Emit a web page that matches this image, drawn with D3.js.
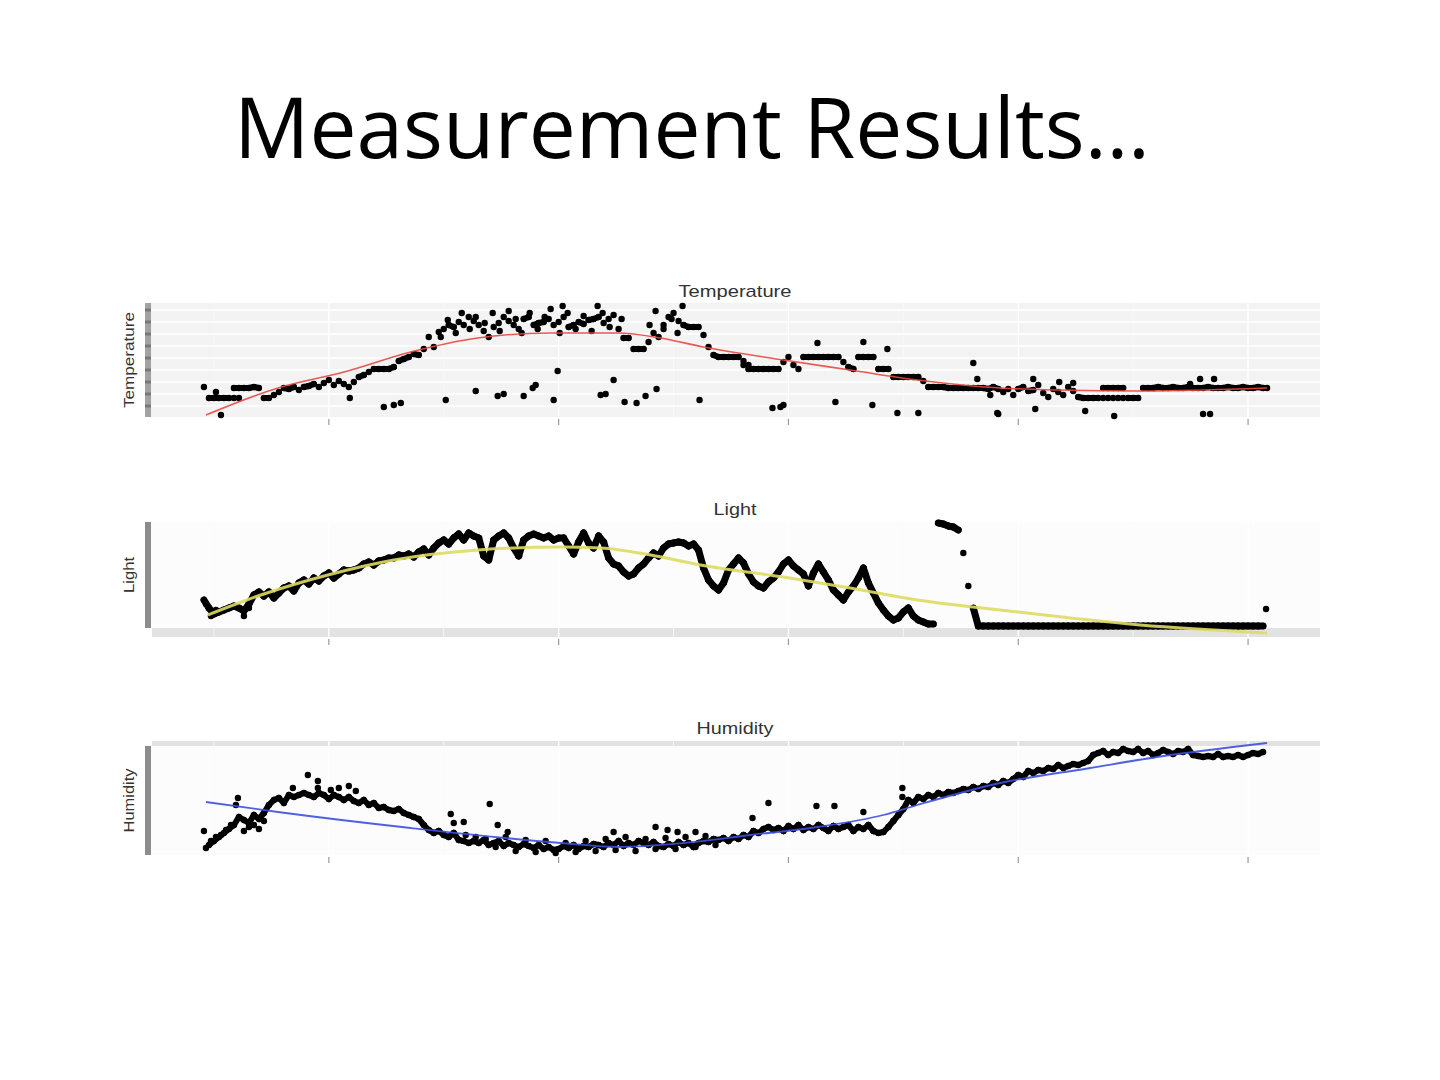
<!DOCTYPE html>
<html>
<head>
<meta charset="utf-8">
<title>Measurement Results</title>
<script src="https://cdn.jsdelivr.net/npm/d3@7"></script>
<style>
  body { margin: 0; background: #fff; }
  .slideTitle { font-family: "Open Sans", sans-serif; fill: #000; }
  .panelTitle { font-family: "Liberation Sans", Arial, sans-serif; font-size: 17px; fill: #333; }
  .yLabel { font-family: "Liberation Sans", Arial, sans-serif; font-size: 14px; fill: #333; }
</style>
</head>
<body>
<script>
//time axis: one reading every 5 minutes, ticks every ~4 hours
var sampleStep = 5;
var tickTimes = [125, 355, 585, 815, 1045];
var minorTimes = [10, 240, 470, 700, 930];

//temperature readings (relative units)
var tempValues = [
  30,19,19,19,19,19,29,29,29,29, 30,29,19,19,22,25,29,28,30,27,
  30,31,33,30,34,37,32,36,33,30, 35,40,42,45,48,48,48,48,50,56,
  58,60,63,62,68,80,70,85,88,92, 90,95,92,100,96,92,86,80,90,94,
  100,96,92,88,98,100,92,94,95,98, 92,95,100,90,92,95,93,97,98,100,
  94,98,102,88,79,79,68,68,68,75, 84,80,92,100,104,96,92,90,90,90,
  82,70,62,60,60,60,60,60,56,48, 48,48,48,48,48,48,55,60,52,48,
  60,60,60,60,60,60,60,60,55,50, 48,60,60,60,60,48,48,48,40,40,
  40,40,40,40,36,30,30,30,30,29, 29,29,29,29,29,29,29,28,30,28,
  25,28,22,28,30,26,27,32,24,20, 28,25,22,30,26,20,19,19,19,19,
  29,29,29,29,29,19,19,19,29,29, 29,30,29,29,30,29,29,30,29,29,
  29,30,29,29,29,30,29,29,30,29, 29,30,29
];
//scattered temperature readings [time, value]
var tempExtra = [
  [12,25],[17,2],[30,19],[35,19],[146,19],[180,10],[190,12],[197,14],
  [242,17],[272,26],[294,21],[300,23],[320,21],[329,29],[332,32],[350,17],[354,46],
  [397,22],[402,23],[410,37],[421,15],[433,14],[442,21],[453,28],[496,17],
  [569,9],[577,10],[580,12],[632,15],[669,12],[694,4],[715,4],
  [795,3],[832,8],[882,6],[911,1],[1000,3],[1007,3],
  [359,111],[394,111],[479,111],[987,33],[997,38],[1011,38],[830,38],[856,35],[870,34],
  [770,54],[774,38],[614,74],[660,75],[684,68],[787,22],[794,4],
  [237,80],[244,97],[252,84],[258,104],[266,88],[272,100],[281,94],[289,104],[296,86],
  [305,106],[312,98],[318,84],[326,104],[334,88],[341,100],[347,108],[356,84],[364,104],
  [372,88],[380,101],[388,86],[399,104],[406,90],[418,98],[446,92],[452,106],[460,88],
  [468,98],[474,84],[540,52],[545,52],
  [900,19],[905,19],[910,19],[915,19],[920,19],[1064,29]
];
var tempFit = [
  [2,2],[74,29],[140,45],[207,65],[274,79],[347,84],[414,84],[457,79],[500,70],
  [580,57],[647,47],[714,37],[797,29],[854,27],[940,26],[1064,29]
];
var tempGrid = [11,23,35,47,59,71,83,95,107];

//light readings (relative units)
var lightValues = [
  28,20,14,16,18,20,22,20,17,24, 33,36,32,36,30,35,40,42,37,45,
  48,44,50,47,52,55,50,54,58,57, 58,60,64,66,63,67,68,70,70,73,
  72,74,71,76,79,73,80,85,88,84, 90,94,88,95,92,90,72,68,88,92,
  95,90,80,72,88,92,94,92,90,92, 88,90,90,82,74,86,95,85,80,92,
  86,70,64,62,56,52,54,60,64,70, 75,72,80,84,85,86,85,82,84,78,
  60,48,42,38,45,58,64,70,65,54, 46,42,40,46,50,56,64,68,62,58,
  54,42,55,64,56,48,38,33,28,36, 42,50,60,45,35,25,18,12,8,10,
  16,20,12,8,6,4,4,105,104,102, 101,98,75,42,20,2,2,2,2,2,
  2,2,2,2,2,2,2,2,2,2, 2,2,2,2,2,2,2,2,2,2,
  2,2,2,2,2,2,2,2,2,2, 2,2,2,2,2,2,2,2,2,2,
  2,2,2,2,2,2,2,2,2,2, 2,2,2
];
var lightExtra = [[1063,19],[2,24],[7,12],[12,18],[40,12],[45,20]];
var lightFit = [
  [4,13],[57,33],[124,53],[190,68],[274,78],[357,81],[397,80],[447,73],[497,63],
  [580,51],[647,40],[714,28],[797,18],[937,3],[1064,-5]
];

//humidity readings (relative units)
var humidityValues = [
  24,10,14,18,22,26,30,38,35,32, 40,36,42,50,55,57,52,60,58,60,
  62,60,58,62,60,56,60,58,55,58, 54,52,55,50,52,47,48,45,44,46,
  42,40,38,36,30,25,22,24,20,18, 22,15,14,12,14,12,15,10,12,14,
  9,12,10,8,11,9,7,10,6,8, 5,6,9,7,10,6,9,8,11,10,
  8,12,10,14,9,12,10,14,12,10, 13,9,8,11,9,13,10,12,8,12,
  14,13,16,15,17,14,18,16,20,18, 24,22,26,28,25,27,24,29,26,30,
  25,28,26,30,27,24,29,26,28,30, 24,28,26,30,24,22,23,28,34,40,
  46,55,52,58,56,60,58,62,60,63, 62,64,66,65,68,66,69,68,72,70,
  74,72,76,80,78,84,82,85,84,87, 86,90,87,89,91,90,92,94,100,102,
  104,100,103,102,106,104,103,106,102,104, 100,102,105,103,101,104,103,106,100,99,
  98,99,98,101,98,99,98,100,98,100, 102,101,103
];
var humidityExtra = [
  [2,7],[34,57],[32,50],[89,67],[104,80],[114,74],[114,67],[127,65],[135,67],[145,69],[152,64],
  [247,41],[250,32],[260,33],[286,51],[294,30],[304,23],[410,23],[452,28],[464,25],[474,23],
  [492,23],[549,37],[565,52],[613,49],[631,49],[660,43],[699,67],[699,58],
  [7,14],[12,18],[17,20],[22,25],[27,30],[40,24],[45,28],[50,30],[55,26],[60,34],
  [262,20],[272,18],[282,16],[292,8],[302,18],[312,4],[322,15],[332,3],[342,14],[352,2],
  [362,12],[372,3],[382,14],[392,4],[402,16],[412,5],[422,18],[432,4],[442,16],[452,6],
  [462,17],[472,6],[482,18],[492,8],[502,19],[512,10]
];
var humidityFit = [
  [2,53],[74,43],[207,27],[357,12],[414,8],[480,12],[547,20],[614,28],[680,40],
  [714,50],[797,72],[887,87],[954,98],[1064,112]
];

window.onload = drawSlide;

function drawSlide(){

  var width = 1440,
    height = 1080;

  var svg = d3.select("body")
    .append("svg")
    .attr("width", width)
    .attr("height", height);

  svg.append("rect")
    .attr("width", width)
    .attr("height", height)
    .attr("fill", "#fff");

  //slide title
  svg.append("text")
    .attr("class", "slideTitle")
    .attr("x", 234)
    .attr("y", 158)
    .attr("font-size", 85)
    .attr("textLength", 916)
    .attr("lengthAdjust", "spacingAndGlyphs")
    .text("Measurement Results\u2026");

  //shared time scale (5% padding like ggplot)
  var x = d3.scaleLinear()
    .domain([-53, 1117])
    .range([151, 1320]);

  //the panels in the slide were stretched sideways, so text widths are fixed
  //joinGap: neighbouring readings this close overplot into a solid band
  var panels = [
    {title: "Temperature", titleY: 297, titleLen: 113, labelLen: 96, values: tempValues, extra: tempExtra, fit: tempFit,
      fitColor: "#e8473f", fitWidth: 1.6, top: 303, bottom: 417, domain: [0, 114], joinGap: 2, band: null,
      bandWidth: 6, bg: "#f3f3f3", grid: tempGrid, axisTop: 303, axisBottom: 417, striped: true},
    {title: "Light", titleY: 515, titleLen: 43, labelLen: 36, values: lightValues, extra: lightExtra, fit: lightFit,
      fitColor: "#dedb63", fitWidth: 3, top: 522, bottom: 637, domain: [-9, 106], joinGap: 20, band: [628, 637],
      bandWidth: 7, bg: "#fcfcfc", grid: [], axisTop: 522, axisBottom: 628},
    {title: "Humidity", titleY: 734, titleLen: 77, labelLen: 64, values: humidityValues, extra: humidityExtra, fit: humidityFit,
      fitColor: "#3d4fe0", fitWidth: 1.8, top: 741, bottom: 855, domain: [0, 114], joinGap: 10, band: [741, 746],
      bandWidth: 6, bg: "#fcfcfc", grid: [], axisTop: 746, axisBottom: 855}
  ];

  panels.forEach(function(p){
    var y = d3.scaleLinear()
      .domain(p.domain)
      .range([p.bottom, p.top]);

    var g = svg.append("g").attr("class", "panel");

    //panel background
    g.append("rect")
      .attr("x", x.range()[0])
      .attr("y", p.top)
      .attr("width", x.range()[1] - x.range()[0])
      .attr("height", p.bottom - p.top)
      .attr("fill", p.bg);

    if (p.band) {
      g.append("rect")
        .attr("x", x.range()[0] + 1)
        .attr("y", p.band[0])
        .attr("width", x.range()[1] - x.range()[0] - 1)
        .attr("height", p.band[1] - p.band[0])
        .attr("fill", "#e2e2e2");
    }

    //horizontal gridlines
    g.selectAll(".hgrid")
      .data(p.grid)
      .enter()
      .append("line")
      .attr("x1", x.range()[0])
      .attr("x2", x.range()[1])
      .attr("y1", function(d) { return y(d); })
      .attr("y2", function(d) { return y(d); })
      .attr("stroke", "#fff")
      .attr("stroke-width", 1.3);

    //vertical gridlines
    g.selectAll(".vminor")
      .data(minorTimes)
      .enter()
      .append("line")
      .attr("x1", function(d) { return x(d); })
      .attr("x2", function(d) { return x(d); })
      .attr("y1", p.top)
      .attr("y2", p.bottom)
      .attr("stroke", "#fafafa")
      .attr("stroke-width", 0.8);

    g.selectAll(".vmajor")
      .data(tickTimes)
      .enter()
      .append("line")
      .attr("x1", function(d) { return x(d); })
      .attr("x2", function(d) { return x(d); })
      .attr("y1", p.top)
      .attr("y2", p.bottom)
      .attr("stroke", "#fff")
      .attr("stroke-width", 1.4);

    //y axis bar (labels too small to read)
    g.append("rect")
      .attr("x", 145)
      .attr("y", p.axisTop)
      .attr("width", 6)
      .attr("height", p.axisBottom - p.axisTop)
      .attr("fill", p.striped ? "#a2a2a2" : "#8c8c8c");

    if (p.striped) {
      g.selectAll(".stripe")
        .data(p.grid)
        .enter()
        .append("rect")
        .attr("x", 145)
        .attr("y", function(d) { return y(d) - 1.5; })
        .attr("width", 6)
        .attr("height", 3)
        .attr("fill", "#787878");
    }

    //x ticks
    g.selectAll(".tick")
      .data(tickTimes)
      .enter()
      .append("line")
      .attr("x1", function(d) { return x(d); })
      .attr("x2", function(d) { return x(d); })
      .attr("y1", p.bottom + 2)
      .attr("y2", p.bottom + 8)
      .attr("stroke", "#9a9a9a")
      .attr("stroke-width", 1.2);

    //points
    var pts = p.values.map(function(v, i) { return [i * sampleStep, v]; })
      .concat(p.extra);

    //overplotted runs between close neighbouring readings
    var pairs = [];
    for (var i = 0; i < p.values.length - 1; i++) {
      if (Math.abs(p.values[i + 1] - p.values[i]) <= p.joinGap) {
        pairs.push([[i * sampleStep, p.values[i]], [(i + 1) * sampleStep, p.values[i + 1]]]);
      }
    }

    g.selectAll(".run")
      .data(pairs)
      .enter()
      .append("line")
      .attr("x1", function(d) { return x(d[0][0]); })
      .attr("y1", function(d) { return y(d[0][1]); })
      .attr("x2", function(d) { return x(d[1][0]); })
      .attr("y2", function(d) { return y(d[1][1]); })
      .attr("stroke", "#000")
      .attr("stroke-width", p.bandWidth)
      .attr("stroke-linecap", "round");

    g.selectAll(".dot")
      .data(pts)
      .enter()
      .append("circle")
      .attr("cx", function(d) { return x(d[0]); })
      .attr("cy", function(d) { return y(d[1]); })
      .attr("r", 3.2)
      .attr("fill", "#000");

    //smooth fit
    var line = d3.line()
      .x(function(d) { return x(d[0]); })
      .y(function(d) { return y(d[1]); })
      .curve(d3.curveMonotoneX);

    g.append("path")
      .datum(p.fit)
      .attr("d", line)
      .attr("fill", "none")
      .attr("stroke", p.fitColor)
      .attr("stroke-width", p.fitWidth)
      .attr("stroke-opacity", 0.9);

    //panel title
    g.append("text")
      .attr("class", "panelTitle")
      .attr("x", 735)
      .attr("y", p.titleY)
      .attr("text-anchor", "middle")
      .attr("textLength", p.titleLen)
      .attr("lengthAdjust", "spacingAndGlyphs")
      .text(p.title);

    //y label
    g.append("text")
      .attr("class", "yLabel")
      .attr("transform", "translate(134," + ((p.axisTop + p.axisBottom) / 2) + ") rotate(-90)")
      .attr("text-anchor", "middle")
      .attr("textLength", p.labelLen)
      .attr("lengthAdjust", "spacingAndGlyphs")
      .text(p.title);
  });
}
</script>
</body>
</html>
